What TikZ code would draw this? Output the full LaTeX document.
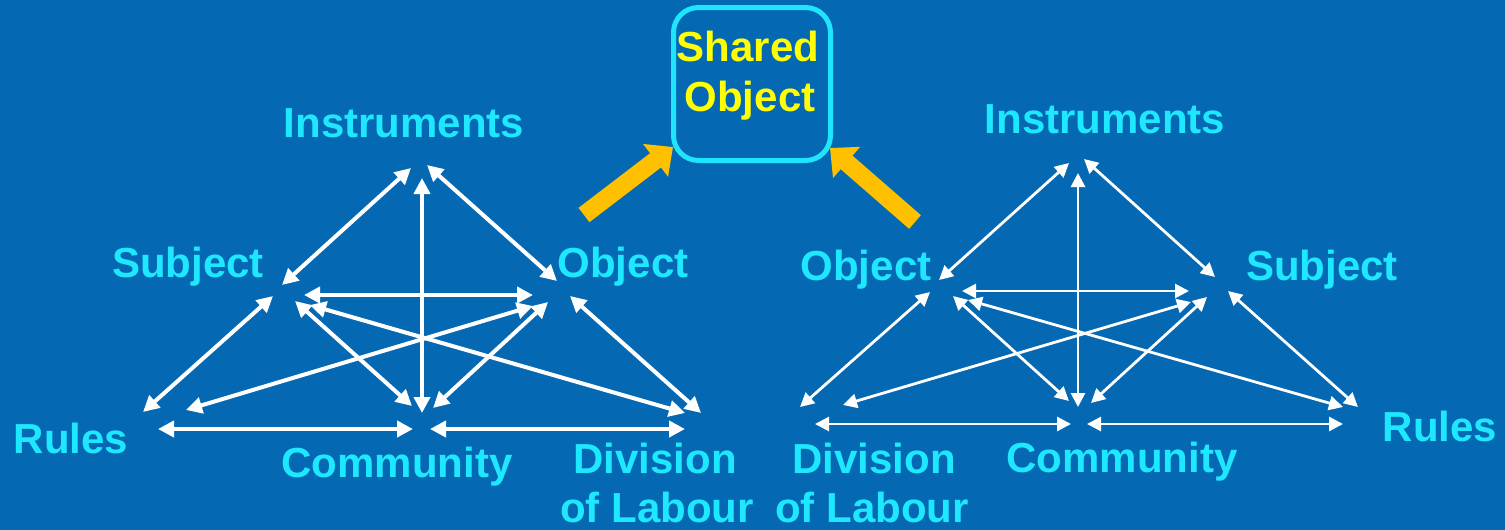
\documentclass[tikz,border=0pt]{standalone}
\usepackage{fontspec}
\setmainfont{Liberation Sans}
\usetikzlibrary{arrows.meta}
\definecolor{bgblue}{RGB}{5,104,179}
\definecolor{lblcyan}{RGB}{30,232,255}
\definecolor{boxcyan}{RGB}{30,228,255}
\definecolor{shyellow}{RGB}{255,255,0}
\definecolor{orarrow}{RGB}{255,192,0}
\tikzset{
  lbl/.style={anchor=base,inner sep=0pt,text=lblcyan,font=\fontsize{42}{48}\selectfont\bfseries},
  shlbl/.style={anchor=base,inner sep=0pt,text=shyellow,font=\fontsize{42}{48}\selectfont\bfseries},
  wideline/.style={draw=white,line width=4pt,{Triangle[length=16pt,width=16pt]}-{Triangle[length=16pt,width=16pt]}},
  thinline/.style={draw=white,line width=2.8pt,{Triangle[length=14pt,width=14pt]}-{Triangle[length=14pt,width=14pt]}},
  bigarrow/.style={draw=orarrow,line width=18pt,-{Triangle[length=22pt,width=40pt]}},
  sharedbox/.style={draw=boxcyan,line width=5pt,rounded corners=25pt}
}
\begin{document}
\begin{tikzpicture}[x=1pt,y=-1pt]
\fill[bgblue] (0,0) rectangle (1505,530);
\useasboundingbox (0,0) rectangle (1505,530);

% Shared object box
\draw[sharedbox] (673.5,7.5) rectangle (830.5,160.5);
\node[shlbl] (shared1) at (748,61) {Shared};
\node[shlbl] (shared2) at (750,111) {Object};

% left labels
\node[lbl] (Linst) at (404,137) {Instruments};
\node[lbl] (Lsubj) at (188,277) {Subject};
\node[lbl] (Lobj)  at (623,277) {Object};
\node[lbl] (Lrules) at (71,453) {Rules};
\node[lbl] (Lcomm) at (397,477) {Community};
\node[lbl] (Ldiv1) at (655,473) {Division};
\node[lbl] (Ldiv2) at (657,522) {of Labour};

% right labels
\node[lbl] (Rinst) at (1105,133) {Instruments};
\node[lbl] (Robj)  at (866,280) {Object};
\node[lbl] (Rsubj) at (1322,280) {Subject};
\node[lbl] (Rcomm) at (1122,472) {Community};
\node[lbl] (Rrules) at (1440,441) {Rules};
\node[lbl] (Rdiv1) at (874,473) {Division};
\node[lbl] (Rdiv2) at (872,522) {of Labour};

% left arrows
\foreach \n/\ax/\ay/\bx/\by in {
  1/411/168/282/285, 2/427/165/557/281, 3/422/178/422/413,
  4/304/295/533/295, 5/273/296/143/412, 6/295/301/412/406,
  7/310/305/685/413, 8/548/302/433/408, 9/533/306/186/410,
  10/570/296/701/413, 11/158/429/413/429, 12/430/429/685/429}{
  \coordinate (La\n) at (\ax,\ay);
  \coordinate (Lb\n) at (\bx,\by);
  \draw[wideline] (La\n) -- (Lb\n);
}

% right arrows
\foreach \n/\ax/\ay/\bx/\by in {
  1/939/280/1069/163, 2/1084/159/1215/277, 3/1078/173/1078/407,
  4/962/291/1189/291, 5/930/292/800/407, 6/953/296/1069/401,
  7/968/300/1343/407, 8/1191/302/843/405, 9/1207/297/1091/403,
  10/1228/291/1358/407, 11/815/424/1071/424, 12/1087/424/1343/424}{
  \coordinate (Ra\n) at (\ax,\ay);
  \coordinate (Rb\n) at (\bx,\by);
  \draw[thinline] (Ra\n) -- (Rb\n);
}

% orange arrows
\coordinate (OLt) at (584,215);
\coordinate (OLh) at (673,147);
\coordinate (ORt) at (915,222);
\coordinate (ORh) at (830,148);
\draw[bigarrow] (OLt) -- (OLh);
\draw[bigarrow] (ORt) -- (ORh);
\end{tikzpicture}
\end{document}
